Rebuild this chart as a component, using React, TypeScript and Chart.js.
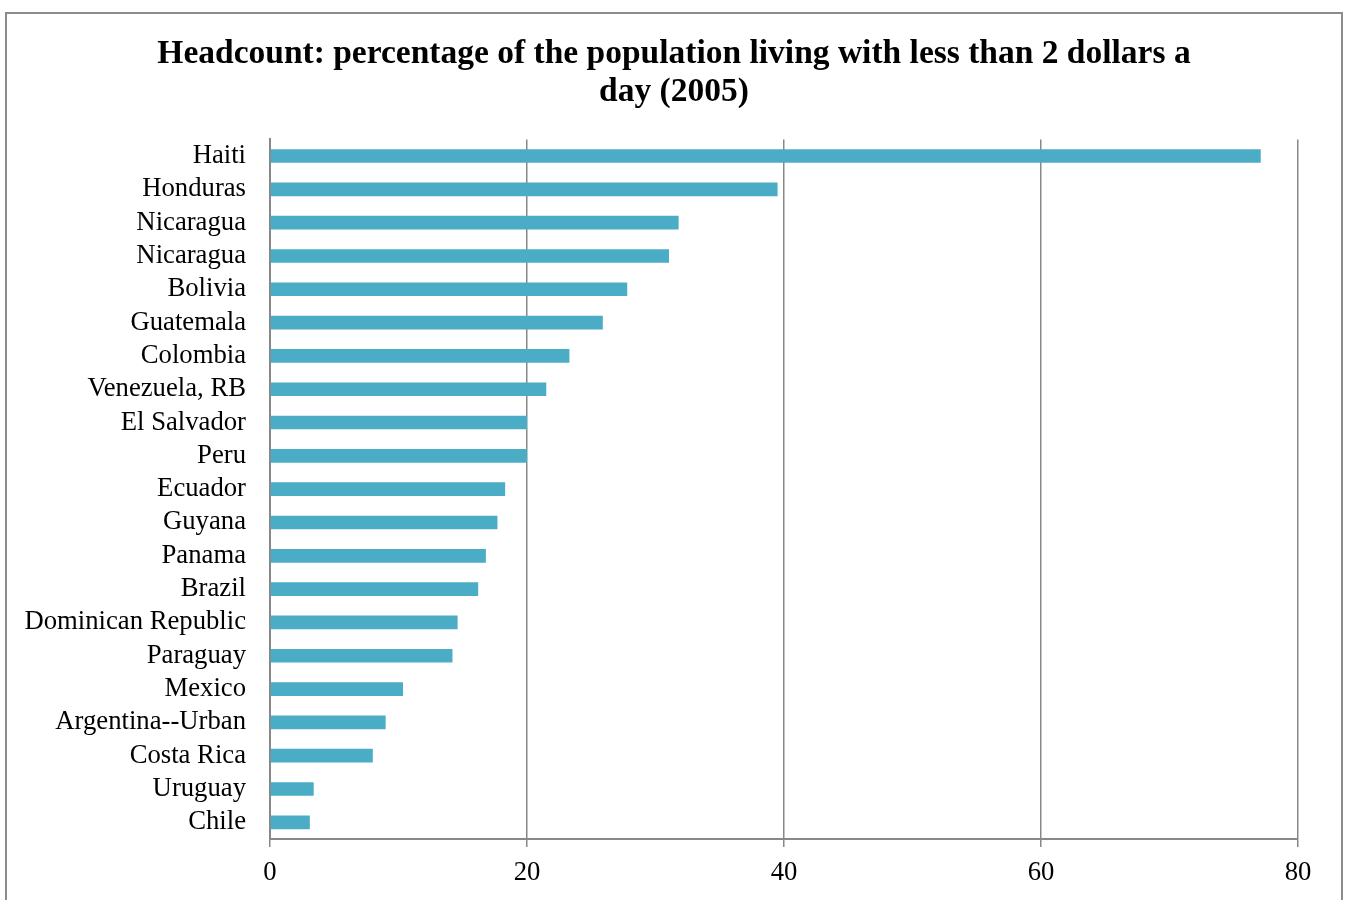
import React, { useEffect, useRef } from "react";
import { Chart, registerables } from "chart.js";

Chart.register(...registerables);

const countries = [
  "Haiti",
  "Honduras",
  "Nicaragua",
  "Nicaragua",
  "Bolivia",
  "Guatemala",
  "Colombia",
  "Venezuela, RB",
  "El Salvador",
  "Peru",
  "Ecuador",
  "Guyana",
  "Panama",
  "Brazil",
  "Dominican Republic",
  "Paraguay",
  "Mexico",
  "Argentina--Urban",
  "Costa Rica",
  "Uruguay",
  "Chile",
];

const headcount = [
  77.1, 39.5, 31.8, 31.05, 27.8, 25.9, 23.3, 21.5, 20.0, 20.0, 18.3, 17.7,
  16.8, 16.2, 14.6, 14.2, 10.35, 9.0, 8.0, 3.4, 3.1,
];

const titleLines = [
  "Headcount: percentage of the population living with less than 2 dollars a",
  "day (2005)",
];

const FONT = "'Liberation Serif', 'Times New Roman', serif";

export default function App() {
  const ref = useRef<HTMLCanvasElement | null>(null);

  useEffect(() => {
    if (!ref.current) return;
    const chart = new Chart(ref.current, {
      type: "bar",
      data: {
        labels: countries,
        datasets: [
          {
            data: headcount,
            backgroundColor: "#4bacc6",
            borderWidth: 0,
            barPercentage: 0.41,
            categoryPercentage: 1,
          },
        ],
      },
      options: {
        indexAxis: "y",
        animation: false,
        responsive: true,
        maintainAspectRatio: false,
        layout: { padding: { left: 0, right: 0, top: 0, bottom: 1 } },
        plugins: {
          legend: { display: false },
          tooltip: { enabled: false },
          title: {
            display: true,
            text: titleLines,
            color: "#000",
            font: { family: FONT, size: 33.5, weight: "bold", lineHeight: 1.14 },
            padding: { top: 21, bottom: 28 },
          },
        },
        scales: {
          x: {
            min: 0,
            max: 80,
            ticks: {
              stepSize: 20,
              color: "#000",
              font: { family: FONT, size: 26.7 },
              padding: 10,
              maxRotation: 0,
            },
            grid: {
              color: "#888888",
              lineWidth: 1.5,
              tickLength: 8,
              drawTicks: true,
            },
            border: { display: true, color: "#888888", width: 2 },
          },
          y: {
            ticks: {
              color: "#000",
              font: { family: FONT, size: 26.7 },
              padding: 24,
              autoSkip: false,
            },
            grid: { display: false, drawTicks: false },
            border: { display: true, color: "#888888", width: 2 },
            afterFit: (scale: any) => {
              scale.width = 263;
            },
          },
          yRight: {
            type: "linear",
            position: "right",
            display: true,
            ticks: { display: false },
            grid: { display: false, drawTicks: false },
            border: { display: false },
            afterFit: (scale: any) => {
              scale.width = 43;
            },
          },
        },
      },
    });
    return () => chart.destroy();
  }, []);

  return (
    <div
      style={{
        position: "absolute",
        left: 5,
        top: 12,
        width: 1334,
        height: 886,
        border: "2px solid #8c8c8c",
        background: "#fff",
      }}
    >
      <canvas ref={ref} />
    </div>
  );
}
